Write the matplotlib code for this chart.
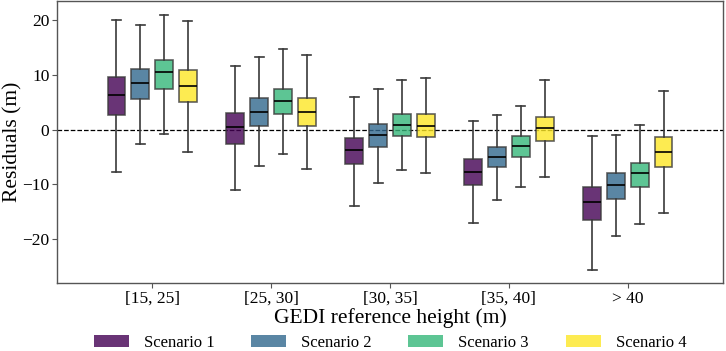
import matplotlib
matplotlib.use("Agg")
import matplotlib.pyplot as plt
from matplotlib.patches import Patch
import numpy as np

plt.rcParams['font.family'] = ['Liberation Serif', 'DejaVu Serif']

categories = ["[15, 25]", "[25, 30]", "[30, 35]", "[35, 40]", "> 40"]
scenarios = ["Scenario 1", "Scenario 2", "Scenario 3", "Scenario 4"]

# per scenario, per category: whislo, q1, median, q3, whishi
s1_lo  = [-7.7, -11.1, -13.9, -17.0, -25.7]
s1_q1  = [2.7, -2.6, -6.3, -10.1, -16.5]
s1_med = [6.3, 0.4, -3.8, -7.7, -13.2]
s1_q3  = [9.6, 3.1, -1.5, -5.4, -10.4]
s1_hi  = [20.0, 11.6, 6.0, 1.6, -1.2]

s2_lo  = [-2.6, -6.7, -9.8, -12.8, -19.5]
s2_q1  = [5.6, 0.7, -3.2, -6.9, -12.6]
s2_med = [8.6, 3.3, -1.0, -4.9, -10.1]
s2_q3  = [11.0, 5.7, 1.0, -3.1, -7.9]
s2_hi  = [19.1, 13.2, 7.5, 2.7, -0.9]

s3_lo  = [-0.8, -4.5, -7.3, -10.4, -17.2]
s3_q1  = [7.4, 2.8, -1.2, -4.9, -10.5]
s3_med = [10.5, 5.3, 0.9, -2.9, -8.0]
s3_q3  = [12.8, 7.5, 2.9, -1.2, -6.0]
s3_hi  = [21.0, 14.7, 9.0, 4.3, 0.8]

s4_lo  = [-4.0, -7.1, -8.0, -8.7, -15.2]
s4_q1  = [5.0, 0.6, -1.4, -2.1, -6.9]
s4_med = [8.0, 3.2, 0.7, 0.3, -4.0]
s4_q3  = [10.9, 5.8, 2.9, 2.4, -1.35]
s4_hi  = [19.9, 13.6, 9.5, 9.1, 7.1]

series = [
    (s1_lo, s1_q1, s1_med, s1_q3, s1_hi),
    (s2_lo, s2_q1, s2_med, s2_q3, s2_hi),
    (s3_lo, s3_q1, s3_med, s3_q3, s3_hi),
    (s4_lo, s4_q1, s4_med, s4_q3, s4_hi),
]

cmap = plt.get_cmap('viridis')
colors = [cmap(v) for v in np.linspace(0, 1, 4)]

fig = plt.figure(figsize=(7.26, 3.51), dpi=100)
ax = fig.add_axes([57/726, 1 - 283/351, (723-57)/726, (283-1)/351])

offsets = [-0.3, -0.1, 0.1, 0.3]
edge = '#3a3a3a'
for k, (lo, q1, med, q3, hi) in enumerate(series):
    stats = []
    for i in range(len(categories)):
        stats.append(dict(whislo=lo[i], q1=q1[i], med=med[i], q3=q3[i],
                          whishi=hi[i], fliers=[]))
    pos = np.arange(len(categories)) + offsets[k]
    ax.bxp(stats, positions=pos, widths=0.15, patch_artist=True,
           showfliers=False, manage_ticks=False,
           boxprops=dict(facecolor=colors[k], alpha=0.8, edgecolor=edge, linewidth=1.2),
           whiskerprops=dict(color=edge, linewidth=1.2),
           capprops=dict(color=edge, linewidth=1.2),
           medianprops=dict(color='black', linewidth=1.2))
for p in ax.patches:
    p.set_edgecolor((0.23, 0.23, 0.23, 1.0))

ax.axhline(0, color='black', linestyle='--', linewidth=0.9, zorder=0.5)

ax.set_xlim(-0.8, 4.8)
ax.set_ylim(-28, 23.5)
ax.set_xticks(np.arange(len(categories)))
ax.set_xticklabels(categories)
ax.set_yticks([-20, -10, 0, 10, 20])
ax.tick_params(labelsize=12.5, color='#555555', length=3.5, width=0.8, pad=2)
for s in ax.spines.values():
    s.set_color('#555555')
    s.set_linewidth(1.0)

ax.set_xlabel("GEDI reference height (m)", fontsize=15.5, labelpad=1)
ax.set_ylabel("Residuals (m)", fontsize=15.5, labelpad=0)

handles = [Patch(facecolor=colors[k], alpha=0.8, edgecolor='none') for k in range(4)]
fig.legend(handles, scenarios, loc='center', bbox_to_anchor=(390/726, 1 - 343/351),
           ncol=4, frameon=False, fontsize=12, handlelength=2.1, handleheight=0.75,
           handletextpad=0.9, columnspacing=2.2, borderpad=0)

fig.savefig("out.png", dpi=100)
